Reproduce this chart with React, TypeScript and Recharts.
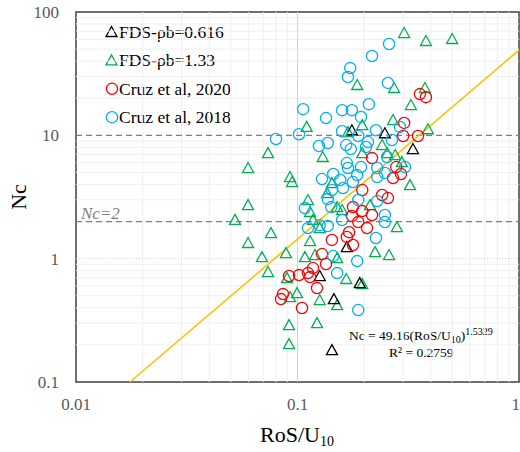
import { ScatterChart, Scatter, XAxis, YAxis, ReferenceLine, ReferenceArea } from "recharts";

// FDS, rho_b = 0.616  [RoS/U10, Nc]
const fds0616 = [
  [0.176, 11.0], [0.248, 10.4], [0.332, 7.74], [0.167, 1.24],
  [0.126, 0.723], [0.191, 0.634], [0.146, 0.47], [0.143, 0.181],
];

// FDS, rho_b = 1.33
const fds133 = [
  [0.303, 67.5], [0.38, 58.2], [0.499, 60.4], [0.186, 25.6], [0.273, 24.2], [0.376, 24.2],
  [0.325, 17.6], [0.27, 13.3], [0.196, 12.1], [0.11, 11.7], [0.388, 11.2], [0.169, 10.6],
  [0.241, 8.34], [0.0736, 7.18], [0.196, 7.18], [0.254, 7.18], [0.276, 6.92], [0.13, 6.67],
  [0.296, 6.07], [0.0598, 5.43], [0.0925, 4.59], [0.0945, 4.18], [0.143, 4.1], [0.322, 3.95],
  [0.136, 3.4], [0.1115, 2.99], [0.0598, 2.72], [0.2125, 2.72], [0.151, 2.62], [0.159, 2.48],
  [0.114, 2.39], [0.0522, 2.06], [0.1175, 2.06], [0.281, 1.8], [0.126, 1.77], [0.0759, 1.61],
  [0.114, 1.39], [0.0598, 1.34], [0.0887, 1.11], [0.0691, 1.03], [0.108, 1.03], [0.12, 1.07],
  [0.151, 1.01], [0.224, 1.13], [0.259, 1.07], [0.0736, 0.779], [0.0897, 0.696], [0.166, 0.684],
  [0.196, 0.622], [0.0995, 0.526], [0.0925, 0.488], [0.126, 0.462], [0.151, 0.42],
  [0.0916, 0.289], [0.1225, 0.3], [0.0916, 0.203],
];

// Cruz et al, 2020
const cruz2020 = [
  [0.357, 21.6], [0.38, 20.4], [0.303, 12.6], [0.3, 9.87], [0.35, 9.87], [0.217, 6.54],
  [0.279, 5.53], [0.293, 4.86], [0.27, 4.5], [0.196, 3.6], [0.241, 3.28], [0.256, 3.1],
  [0.178, 2.62], [0.196, 2.43], [0.217, 2.26], [0.176, 2.22], [0.188, 1.98], [0.206, 1.77],
  [0.171, 1.64], [0.167, 1.5], [0.178, 1.29], [0.143, 1.42], [0.129, 1.09], [0.1345, 0.904],
  [0.1175, 0.839], [0.1115, 0.764], [0.114, 0.709], [0.1016, 0.736], [0.0916, 0.723],
  [0.1225, 0.577], [0.086, 0.516], [0.0842, 0.47], [0.1048, 0.398],
];

// Cruz et al, 2018
const cruz2018 = [
  [0.259, 55.0], [0.217, 44.0], [0.173, 35.1], [0.169, 29.7], [0.256, 26.6], [0.21, 17.9],
  [0.159, 16.0], [0.176, 16.0], [0.1935, 14.1], [0.106, 16.3], [0.1345, 13.8], [0.1016, 10.2],
  [0.08, 9.33], [0.159, 10.8], [0.188, 9.87], [0.226, 11.0], [0.29, 11.7], [0.267, 9.16],
  [0.137, 8.66], [0.125, 8.19], [0.166, 8.34], [0.174, 7.74], [0.204, 8.04], [0.254, 6.67],
  [0.167, 5.96], [0.169, 5.43], [0.1935, 5.53], [0.229, 5.43], [0.306, 5.53], [0.248, 4.95],
  [0.145, 4.86], [0.186, 4.76], [0.229, 4.59], [0.129, 4.42], [0.156, 4.34], [0.178, 4.18],
  [0.1605, 3.74], [0.143, 3.6], [0.137, 3.04], [0.188, 2.99], [0.229, 2.93], [0.108, 2.57],
  [0.142, 2.62], [0.159, 2.06], [0.137, 1.84], [0.126, 1.87], [0.1115, 1.77], [0.248, 2.26],
  [0.248, 1.98], [0.226, 1.47], [0.145, 1.05], [0.186, 0.956], [0.151, 0.764], [0.188, 0.383],
  [0.208, 8.82],
];

// fit: Nc = 49.16 (RoS/U10)^1.5329, ends of the line in the plot
const fitEnds = [
  { x: 0.01753, y: 0.1 },
  { x: 1, y: 49.16 },
];

const xTicks = [0.01, 0.1, 1];
const yTicks = [0.1, 1, 10, 100];
const xMinor = [0.02, 0.03, 0.04, 0.05, 0.06, 0.07, 0.08, 0.09, 0.2, 0.3, 0.4, 0.5, 0.6, 0.7, 0.8, 0.9];
const yMinor = [
  0.2, 0.3, 0.4, 0.5, 0.6, 0.7, 0.8, 0.9, 2, 3, 4, 5, 6, 7, 8, 9,
  20, 30, 40, 50, 60, 70, 80, 90,
];
const dashedLevels = [2, 10];

const FONT = "'Liberation Serif', 'Times New Roman', serif";
const GREEN = "#00B050";
const RED = "#FF0000";
const BLUE = "#00B0F0";

const toPoints = (rows: number[][]) => rows.map(([x, y]) => ({ x, y }));

const triangle = (color: string) => (props: any) => {
  const { cx, cy } = props;
  return (
    <path
      d={`M${cx - 5.5},${cy + 4.5}L${cx},${cy - 5.5}L${cx + 5.5},${cy + 4.5}Z`}
      fill="none"
      stroke={color}
      strokeWidth={1.3}
    />
  );
};

const ring = (color: string) => (props: any) => {
  const { cx, cy } = props;
  return <circle cx={cx} cy={cy} r={5.6} fill="none" stroke={color} strokeWidth={1.3} />;
};

const legendRows = [
  { label: "FDS-ρb=0.616", color: "#000", kind: "tri" },
  { label: "FDS-ρb=1.33", color: GREEN, kind: "tri" },
  { label: "Cruz et al, 2020", color: RED, kind: "circ" },
  { label: "Cruz et al, 2018", color: BLUE, kind: "circ" },
];

const fmt = (v: number) => String(v);

export default function App() {
  return (
    <div style={{ position: "absolute", left: 0, top: 0, background: "#fff" }}>
      <ScatterChart width={520} height={452} margin={{ top: 12, right: 1, bottom: 0, left: 0 }}>
        <XAxis
          type="number"
          dataKey="x"
          scale="log"
          domain={[0.01, 1]}
          allowDataOverflow
          ticks={xTicks}
          tickFormatter={fmt}
          axisLine={false}
          tickLine={false}
          tickSize={0}
          tickMargin={16}
          height={70}
          tick={{ fill: "#595959", fontSize: 17, fontFamily: FONT }}
        />
        <YAxis
          type="number"
          dataKey="y"
          scale="log"
          domain={[0.1, 100]}
          allowDataOverflow
          ticks={yTicks}
          tickFormatter={fmt}
          axisLine={false}
          tickLine={false}
          tickSize={0}
          tickMargin={17}
          width={76}
          tick={{ fill: "#595959", fontSize: 17, fontFamily: FONT }}
        />
        {xMinor.map((v) => (
          <ReferenceLine key={"gx" + v} x={v} stroke="#efefef" strokeWidth={1} />
        ))}
        {yMinor.map((v) => (
          <ReferenceLine key={"gy" + v} y={v} stroke="#efefef" strokeWidth={1} />
        ))}
        <ReferenceLine x={0.1} stroke="#d4d4d4" strokeWidth={1} />
        <ReferenceLine y={1} stroke="#cfcfcf" strokeWidth={1} strokeDasharray="1 2" />
        {dashedLevels.map((v) => (
          <ReferenceLine key={"d" + v} y={v} stroke="#7f7f7f" strokeWidth={1.2} strokeDasharray="6 4" />
        ))}
        <ReferenceLine segment={fitEnds} stroke="#FFC000" strokeWidth={1.6} />
        <ReferenceArea x1={0.01} x2={1} y1={0.1} y2={100} fill="none" stroke="#404040" strokeWidth={1.5} />
        <Scatter name="FDS-ρb=1.33" data={toPoints(fds133)} shape={triangle(GREEN)} isAnimationActive={false} />
        <Scatter name="FDS-ρb=0.616" data={toPoints(fds0616)} shape={triangle("#000")} isAnimationActive={false} />
        <Scatter name="Cruz et al, 2020" data={toPoints(cruz2020)} shape={ring(RED)} isAnimationActive={false} />
        <Scatter name="Cruz et al, 2018" data={toPoints(cruz2018)} shape={ring(BLUE)} isAnimationActive={false} />

        <g fontFamily={FONT}>
          {legendRows.map((r, i) => {
            const cy = 32 + i * 28.4;
            return (
              <g key={r.label}>
                {r.kind === "tri" ? (
                  <path
                    d={`M${106},${cy + 4.5}L${111.5},${cy - 5.5}L${117},${cy + 4.5}Z`}
                    fill="none"
                    stroke={r.color}
                    strokeWidth={1.3}
                  />
                ) : (
                  <circle cx={112} cy={cy} r={5.6} fill="none" stroke={r.color} strokeWidth={1.3} />
                )}
                <text x={119} y={cy + 6} fontSize={17.5} fill="#000">
                  {r.label}
                </text>
              </g>
            );
          })}
          <text x={81} y={219} fontSize={17} fontStyle="italic" fill="#7f7f7f">
            Nc=2
          </text>
          <text x={349} y={340} fontSize={13.5} fill="#000">
            Nc = 49.16(RoS/U
            <tspan fontSize={10} dy={3}>10</tspan>
            <tspan dy={-3}>)</tspan>
            <tspan fontSize={10} dy={-5}>1.5329</tspan>
          </text>
          <text x={389} y={357} fontSize={13.5} fill="#000">
            R² = 0.2759
          </text>
          <text x={297} y={442} fontSize={22} fill="#000" textAnchor="middle">
            RoS/U
            <tspan fontSize={14} dy={4}>10</tspan>
          </text>
          <text x={26} y={197} fontSize={22} fill="#000" textAnchor="middle" transform="rotate(-90, 26, 197)">
            Nc
          </text>
        </g>
      </ScatterChart>
    </div>
  );
}
